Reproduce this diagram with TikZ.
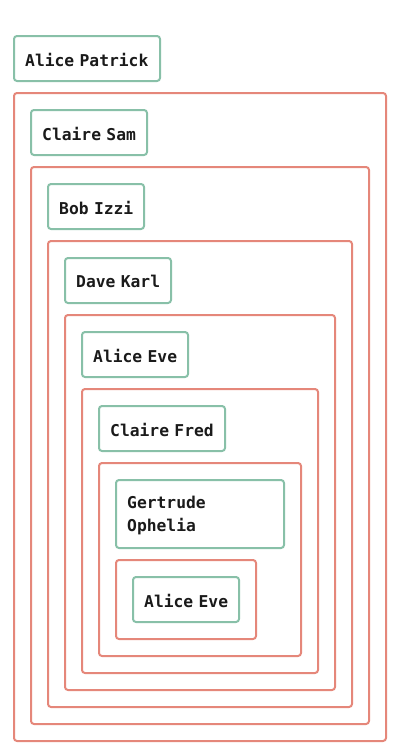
\documentclass[tikz,border=0pt]{standalone}
\usepackage{fontspec}
\newfontfamily\labelfont[WordSpace=0.55]{DejaVu Sans Mono}
\definecolor{boxgreen}{HTML}{88C0A8}
\definecolor{boxred}{HTML}{E5877A}
\definecolor{txt}{HTML}{1A1A1A}
\tikzset{
  leaf/.style={draw=boxgreen, line width=2pt, rounded corners=3pt},
  group/.style={draw=boxred, line width=2pt, rounded corners=3pt},
  lbl/.style={anchor=west, inner sep=0pt, text=txt, font=\labelfont\bfseries\fontsize{16.3}{23}\selectfont, align=left}
}
\begin{document}
\begin{tikzpicture}[x=1pt,y=-1pt]
\useasboundingbox (0,0) rectangle (400,755);
% groups
\draw[group] (14,93) rectangle (386,741);
\draw[group] (31,167) rectangle (369,724);
\draw[group] (48,241) rectangle (352,707);
\draw[group] (65,315) rectangle (335,690);
\draw[group] (82,389) rectangle (318,673);
\draw[group] (99,463) rectangle (301,656);
\draw[group] (116,560) rectangle (256,639);
% leaves
\draw[leaf] (14,36) rectangle (160,81);
\node[lbl] (t1) at (25,59.5) {Alice Patrick};
\draw[leaf] (31,110) rectangle (147,155);
\node[lbl] (t2) at (42,133.5) {Claire Sam};
\draw[leaf] (48,184) rectangle (144,229);
\node[lbl] (t3) at (59,207.5) {Bob Izzi};
\draw[leaf] (65,258) rectangle (171,303);
\node[lbl] (t4) at (76,281.5) {Dave Karl};
\draw[leaf] (82,332) rectangle (188,377);
\node[lbl] (t5) at (93,355.5) {Alice Eve};
\draw[leaf] (99,406) rectangle (225,451);
\node[lbl] (t6) at (110,429.5) {Claire Fred};
\draw[leaf] (116,480) rectangle (284,548);
\node[lbl] (t7) at (127,515.5) {Gertrude\\Ophelia};
\draw[leaf] (133,577) rectangle (239,622);
\node[lbl] (t8) at (144,600.5) {Alice Eve};
\end{tikzpicture}
\end{document}
